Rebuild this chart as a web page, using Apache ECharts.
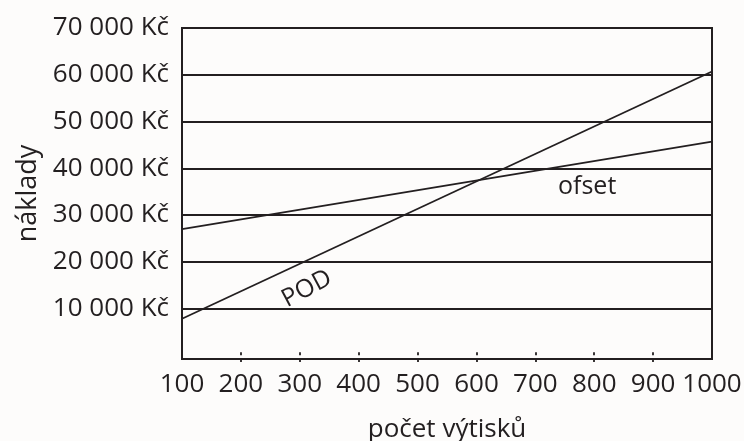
<!DOCTYPE html>
<html>
<head>
<meta charset="utf-8">
<script src="https://cdn.jsdelivr.net/npm/echarts@6/dist/echarts.min.js"></script>
<style>
html,body{margin:0;padding:0;background:#fdfcfb;}
#c{width:744px;height:441px;}
</style>
</head>
<body>
<div id="c"></div>
<script>
// data
var xPrints = [100, 1000];
var podCost = [7800, 60700];
var ofsetCost = [27000, 45700];
var yTicks = [10000, 20000, 30000, 40000, 50000, 60000, 70000];
var xTickInner = [200, 300, 400, 500, 600, 700, 800, 900];
var seriesNames = ['POD', 'ofset'];

var ink = '#231f20';
var font = 'Open Sans';

function fmtKc(v) {
  return String(v).replace(/\B(?=(\d{3})+(?!\d))/g, ' ') + ' Kč';
}

var chart = echarts.init(document.getElementById('c'));
chart.setOption({
  animation: false,
  backgroundColor: '#fdfcfb',
  grid: {left: 182, right: 32, top: 28, bottom: 82, show: true, borderColor: ink, borderWidth: 2, backgroundColor: 'transparent',
    containLabel: false, outerBoundsMode: 'none'},
  xAxis: [{
    type: 'value', min: 100, max: 1000, interval: 100,
    name: 'počet výtisků', nameLocation: 'middle', nameGap: 58,
    nameTextStyle: {fontFamily: font, fontSize: 26, color: ink},
    axisLine: {show: false},
    axisTick: {show: true, inside: true, length: 3, lineStyle: {color: ink, width: 1.8}, customValues: xTickInner},
    axisLabel: {fontFamily: font, fontSize: 26, color: ink, margin: 13, showMinLabel: true, showMaxLabel: true,
      formatter: function (v) { return String(v); }},
    splitLine: {show: false}
  }, {
    type: 'value', min: 100, max: 1000, interval: 100, position: 'bottom',
    axisLine: {show: false},
    axisTick: {show: true, inside: false, length: 3, lineStyle: {color: ink, width: 1.8}, customValues: xTickInner},
    axisLabel: {show: false},
    splitLine: {show: false}
  }],
  yAxis: {
    type: 'value', min: -800, max: 70000,
    name: 'náklady', nameLocation: 'middle', nameGap: 140,
    nameTextStyle: {fontFamily: font, fontSize: 27, color: ink},
    axisLine: {show: false},
    axisTick: {show: false},
    axisLabel: {fontFamily: font, fontSize: 26, color: ink, margin: 13, customValues: yTicks, formatter: fmtKc},
    splitLine: {show: false}
  },
  series: [{
    name: seriesNames[0], type: 'line', symbol: 'none',
    data: xPrints.map(function (x, i) { return [x, podCost[i]]; }),
    lineStyle: {color: ink, width: 1.8},
    markPoint: {
      symbol: 'circle', symbolSize: 0,
      label: {show: true, position: 'inside', formatter: 'POD', rotate: 28, fontFamily: font, fontSize: 25, color: ink},
      data: [{coord: [312, 14200]}]
    },
    markLine: {
      symbol: 'none', silent: true,
      label: {show: false},
      lineStyle: {color: ink, width: 1.8, type: 'solid'},
      data: yTicks.map(function (v) { return {yAxis: v}; })
    },
    z: 3
  }, {
    name: seriesNames[1], type: 'line', symbol: 'none',
    data: xPrints.map(function (x, i) { return [x, ofsetCost[i]]; }),
    lineStyle: {color: ink, width: 1.8},
    markPoint: {
      symbol: 'circle', symbolSize: 0,
      label: {show: true, position: 'inside', formatter: 'ofset', fontFamily: font, fontSize: 25, color: ink},
      data: [{coord: [788, 36000]}]
    },
    z: 3
  }]
});
</script>
</body>
</html>
